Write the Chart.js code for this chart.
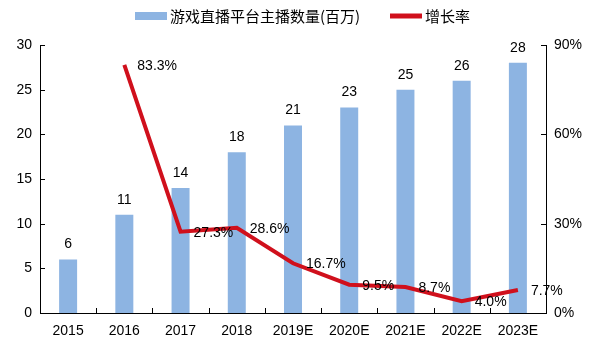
<!DOCTYPE html>
<html>
<head>
<meta charset="utf-8">
<script src="https://cdn.jsdelivr.net/npm/chart.js@4/dist/chart.umd.min.js"></script>
<style>
  html, body { margin: 0; padding: 0; background: #fff; }
  #wrap { width: 601px; height: 347px; }
</style>
</head>
<body>
<div id="wrap"><canvas id="chart" width="601" height="347"></canvas></div>
<script>
// Streamer counts (millions) and yearly growth
const years = ['2015', '2016', '2017', '2018', '2019E', '2020E', '2021E', '2022E', '2023E'];
const streamers = [6, 11, 14, 18, 21, 23, 25, 26, 28];
const growth = [null, 83.3, 27.3, 28.6, 16.7, 9.5, 8.7, 4.0, 7.7];
const leftTicks = [0, 5, 10, 15, 20, 25, 30];
const rightTicks = [0, 30, 60, 90];

const FONT = "'Liberation Sans', Arial, 'Noto Sans CJK SC', sans-serif";
const CJK = "'Noto Sans CJK SC', 'Liberation Sans', sans-serif";

// short inward tick marks on all three axes
const axisTicks = {
    id: 'axisTicks',
    afterDraw(chart) {
        const ctx = chart.ctx;
        const { y, y1, x } = chart.scales;
        ctx.save();
        ctx.strokeStyle = '#000';
        ctx.lineWidth = 1;
        ctx.beginPath();
        leftTicks.forEach(v => {
            const py = Math.round(y.getPixelForValue(v)) + 0.5;
            ctx.moveTo(y.right, py); ctx.lineTo(y.right + 5, py);
        });
        rightTicks.forEach(v => {
            const py = Math.round(y1.getPixelForValue(v)) + 0.5;
            ctx.moveTo(y1.left, py); ctx.lineTo(y1.left - 5, py);
        });
        const step = (x.right - x.left) / years.length;
        for (let i = 1; i < years.length; i++) {
            const px = Math.round(x.left + step * i) + 0.5;
            ctx.moveTo(px, x.top); ctx.lineTo(px, x.top - 5);
        }
        ctx.stroke();
        ctx.restore();
    }
};

// value labels: above bars, right of line points
const valueLabels = {
    id: 'valueLabels',
    afterDatasetsDraw(chart) {
        const ctx = chart.ctx;
        ctx.save();
        ctx.font = '14px ' + FONT;
        ctx.fillStyle = '#000';
        chart.getDatasetMeta(0).data.forEach((bar, i) => {
            ctx.textAlign = 'center';
            ctx.textBaseline = 'middle';
            ctx.fillText(String(streamers[i]), bar.x, bar.y - 15);
        });
        chart.getDatasetMeta(1).data.forEach((pt, i) => {
            if (growth[i] === null) return;
            ctx.textAlign = 'left';
            ctx.textBaseline = 'middle';
            ctx.fillText(growth[i].toFixed(1) + '%', pt.x + 13, pt.y + 1);
        });
        ctx.restore();
    }
};

// legend row at the top: bar swatch then line swatch
const topLegend = {
    id: 'topLegend',
    afterDraw(chart) {
        const ctx = chart.ctx;
        const [bars, line] = chart.data.datasets;
        const cy = 16;
        ctx.save();
        ctx.font = '15px ' + CJK;
        ctx.textBaseline = 'middle';
        ctx.textAlign = 'left';
        let x = 135;
        ctx.fillStyle = bars.backgroundColor;
        ctx.fillRect(x, cy - 4, 32, 8);
        ctx.fillStyle = '#000';
        ctx.fillText(bars.label, x + 35, cy);
        x = 390;
        ctx.strokeStyle = line.borderColor;
        ctx.lineWidth = 5;
        ctx.beginPath();
        ctx.moveTo(x, cy); ctx.lineTo(x + 32, cy);
        ctx.stroke();
        ctx.fillText(line.label, x + 35, cy);
        ctx.restore();
    }
};

new Chart(document.getElementById('chart'), {
    type: 'bar',
    data: {
        labels: years,
        datasets: [
            {
                label: '游戏直播平台主播数量(百万)',
                data: streamers,
                backgroundColor: '#8DB4E2',
                barPercentage: 0.32,
                categoryPercentage: 1,
                yAxisID: 'y',
                order: 2
            },
            {
                type: 'line',
                label: '增长率',
                data: growth,
                borderColor: '#D0101C',
                backgroundColor: '#D0101C',
                borderWidth: 4,
                pointRadius: 0,
                tension: 0,
                spanGaps: false,
                yAxisID: 'y1',
                order: 1
            }
        ]
    },
    options: {
        responsive: false,
        animation: false,
        layout: { padding: { top: 45, bottom: 0, left: 0, right: 0 } },
        plugins: {
            legend: { display: false },
            tooltip: { enabled: false }
        },
        scales: {
            x: {
                grid: { display: false, drawTicks: false },
                border: { display: true, color: '#000' },
                ticks: { color: '#000', padding: 10, font: { size: 14, family: FONT } },
                afterFit(s) { s.height = 34; }
            },
            y: {
                position: 'left',
                min: 0, max: 30,
                grid: { display: false, drawTicks: false },
                border: { display: true, color: '#000' },
                ticks: { stepSize: 5, color: '#000', padding: 8, font: { size: 14, family: FONT } },
                afterFit(s) { s.width = 40; }
            },
            y1: {
                position: 'right',
                min: 0, max: 90,
                grid: { display: false, drawTicks: false },
                border: { display: true, color: '#000' },
                ticks: {
                    stepSize: 30, color: '#000', padding: 8,
                    font: { size: 14, family: FONT },
                    callback: v => v + '%'
                },
                afterFit(s) { s.width = 55; }
            }
        }
    },
    plugins: [axisTicks, valueLabels, topLegend]
});
</script>
</body>
</html>
